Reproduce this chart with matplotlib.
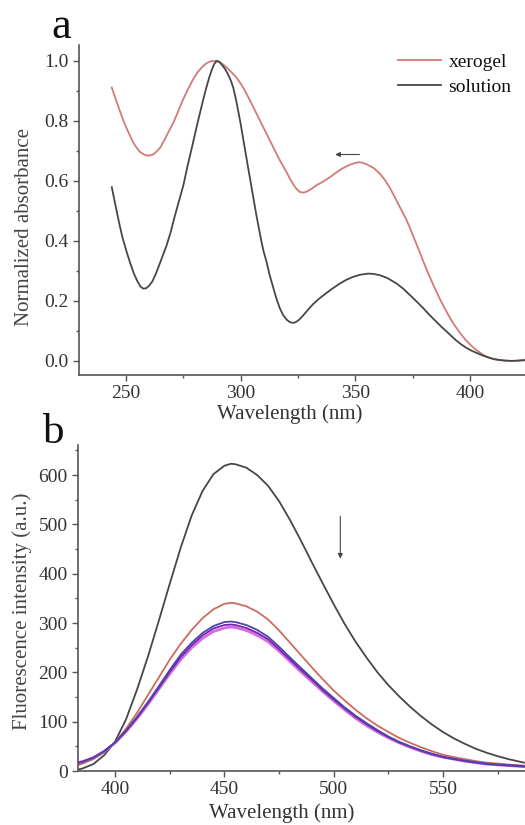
import matplotlib
matplotlib.use("Agg")
import matplotlib.pyplot as plt
from matplotlib.ticker import MultipleLocator

plt.rcParams['font.family'] = ['Liberation Serif', 'DejaVu Serif']

# panel a: normalized absorbance
wl_xerogel = [243.8, 245.5, 247, 248.5, 250, 251.5, 253, 254.5, 256, 258, 259.7, 261.5, 263,
              265, 267, 269, 271, 273, 275, 277, 279, 281, 283, 285, 287, 288.8, 290.5, 292,
              294, 296, 298, 299.7, 301.5, 303, 305, 307, 309, 311, 313, 315, 317.5, 320, 322,
              324, 325.8, 327.5, 329, 331, 333, 336, 338.9, 341.5, 344, 346, 348, 350, 351.3,
              353, 355, 358, 360.7, 363, 365, 367, 369.4, 372, 374, 376, 378.2, 380, 382,
              384.5, 386.9, 389, 391, 393, 395.6, 398, 400, 402, 404.3, 406, 408, 410, 412,
              414, 416, 420, 424]
abs_xerogel = [0.911, 0.873, 0.84, 0.808, 0.78, 0.755, 0.73, 0.712, 0.697, 0.687, 0.684,
               0.687, 0.695, 0.712, 0.74, 0.77, 0.80, 0.837, 0.873, 0.905, 0.935, 0.96, 0.978,
               0.992, 0.999, 1.0, 0.997, 0.99, 0.978, 0.962, 0.946, 0.928, 0.906, 0.884, 0.854,
               0.823, 0.792, 0.762, 0.731, 0.70, 0.663, 0.629, 0.60, 0.576, 0.563, 0.561, 0.565,
               0.574, 0.585, 0.598, 0.612, 0.627, 0.64, 0.648, 0.655, 0.660, 0.662, 0.661,
               0.655, 0.643, 0.624, 0.602, 0.578, 0.549, 0.513, 0.475, 0.44, 0.402, 0.36, 0.325,
               0.288, 0.245, 0.206, 0.175, 0.147, 0.122, 0.094, 0.071, 0.055, 0.041, 0.028,
               0.019, 0.012, 0.007, 0.004, 0.002, 0.0, 0.0, 0.004]

wl_solution = [243.8, 245.5, 247, 248.5, 250.3, 252, 253.5, 255, 256.3, 257.5, 258.7, 260,
               261.5, 263, 265, 267.7, 269.5, 271, 273, 275, 277, 279, 280.7, 282.3, 283.7,
               285, 286.3, 287.5, 288.5, 289.5, 290.7, 292, 293.3, 294.5, 295.7, 296.8, 298,
               299, 300, 301, 302, 303, 304.1, 305.5, 307, 308, 309, 310, 311.3, 312.5, 314,
               315.5, 317.1, 318.5, 320, 321.3, 322.5, 323.7, 325, 326.5, 328, 330, 331.7, 334,
               337, 340, 343.3, 346, 349, 352, 355.6, 358, 361, 364, 368, 371, 374, 377, 379.6,
               382, 385, 387.5, 389.8, 392, 394, 396, 398.5, 401, 404.3, 407, 409, 411, 414,
               418, 424]
abs_solution = [0.579, 0.515, 0.46, 0.41, 0.363, 0.322, 0.29, 0.265, 0.248, 0.241, 0.242,
                0.25, 0.265, 0.29, 0.33, 0.385, 0.43, 0.475, 0.53, 0.585, 0.655, 0.72, 0.777,
                0.828, 0.872, 0.91, 0.945, 0.972, 0.99, 1.0, 0.997, 0.985, 0.972, 0.955, 0.935,
                0.91, 0.87, 0.83, 0.79, 0.745, 0.70, 0.655, 0.607, 0.545, 0.48, 0.44, 0.40,
                0.365, 0.33, 0.29, 0.25, 0.21, 0.175, 0.153, 0.138, 0.13, 0.127, 0.128, 0.134,
                0.145, 0.158, 0.176, 0.19, 0.206, 0.224, 0.241, 0.258, 0.27, 0.28, 0.287,
                0.291, 0.29, 0.285, 0.276, 0.258, 0.24, 0.218, 0.196, 0.176, 0.156, 0.133,
                0.114, 0.098, 0.082, 0.068, 0.056, 0.043, 0.033, 0.022, 0.014, 0.009, 0.005,
                0.002, 0.0, 0.002]

# panel b: fluorescence spectra
wl_fl = [383, 385, 390, 395, 400, 405, 410, 415, 420, 425, 430, 435, 440, 445, 450, 453, 455,
         460, 465, 470, 475, 480, 485, 490, 495, 500, 505, 510, 515, 520, 525, 530, 535, 540,
         545, 550, 555, 560, 565, 570, 575, 580, 585, 587]
fl_black = [3, 5, 14, 32, 60, 105, 165, 232, 305, 380, 453, 518, 568, 602, 619, 623, 622,
            615, 600, 578, 547, 509, 467, 423, 380, 338, 298, 262, 230, 200, 174, 151, 130,
            111, 94, 79, 66, 55, 45, 37, 30, 24, 19, 17]
fl_red = [12, 15, 24, 38, 58, 86, 118, 154, 190, 226, 258, 286, 310, 328, 339, 341, 340, 334,
          323, 307, 285, 260, 235, 210, 186, 163, 143, 124, 107, 92, 79, 67, 57, 48, 40, 33,
          28, 24, 20, 17, 15, 13, 11.5, 11]
fl_blue = [16, 18, 27, 40, 58, 82, 110, 140, 172, 205, 236, 260, 280, 294, 302, 303, 302,
           296, 286, 272, 252, 230, 209, 188, 167, 148, 129, 112, 97, 83, 70, 59, 50, 42, 35,
           29, 25, 21, 18, 15, 13.5, 12, 10.5, 10]
fl_purple = [17, 19, 27, 40, 58, 81, 108, 138, 169, 201, 231, 255, 275, 289, 296, 297, 296,
             290, 280, 267, 247, 226, 205, 185, 164, 145, 127, 110, 95, 81, 69, 58, 49, 41, 34,
             28, 24, 20, 17, 14, 12.5, 11, 9.5, 9]
fl_magenta = [17, 19, 27, 40, 57, 80, 106, 135, 166, 197, 226, 250, 269, 283, 290, 292, 291,
              285, 275, 262, 243, 222, 201, 181, 161, 142, 124, 107, 92, 79, 67, 57, 48, 40,
              33, 28, 24, 20, 17, 14, 12.5, 11, 9.5, 9]

text_c = '#333333'
spine_c = '#555555'

fig = plt.figure(figsize=(5.25, 8.25), dpi=100)
ax_a = fig.add_axes([79 / 525, 1 - 375 / 825, 446 / 525, 330 / 825])
ax_b = fig.add_axes([78 / 525, 1 - 771 / 825, 447 / 525, 326 / 825])

for ax in (ax_a, ax_b):
    ax.spines['top'].set_visible(False)
    ax.spines['right'].set_visible(False)
    for s in ('left', 'bottom'):
        ax.spines[s].set_color(spine_c)
        ax.spines[s].set_linewidth(1.2)
    ax.tick_params(which='major', direction='out', length=4.5, width=1.0, color=spine_c,
                   labelsize=14, labelcolor=text_c, pad=3)
    ax.tick_params(which='minor', direction='out', length=2.5, width=1.0, color=spine_c)

# panel a
ax_a.plot(wl_xerogel, abs_xerogel, color='#d47a76', lw=1.3, label='xerogel')
ax_a.plot(wl_solution, abs_solution, color='#474747', lw=1.3, label='solution')
ax_a.set_xlim(229.5, 424)
ax_a.set_ylim(-0.047, 1.053)
ax_a.xaxis.set_major_locator(MultipleLocator(50))
ax_a.xaxis.set_minor_locator(MultipleLocator(25))
ax_a.yaxis.set_major_locator(MultipleLocator(0.2))
ax_a.yaxis.set_minor_locator(MultipleLocator(0.1))
ax_a.yaxis.set_major_formatter(plt.FuncFormatter(lambda v, p: f'{v:.1f}'))
ax_a.set_xlabel('Wavelength (nm)', fontsize=15, color=text_c)
ax_a.set_ylabel('Normalized absorbance', fontsize=15, color='#444444')
ax_a.xaxis.set_label_coords(0.473, -0.088)
ax_a.yaxis.set_label_coords(-0.10, 0.45)
ax_a.annotate('', xy=(340, 0.688), xytext=(353, 0.688),
              arrowprops=dict(arrowstyle='-|>', color='#444444', lw=0.8, mutation_scale=7))
leg = ax_a.legend(loc='upper left', bbox_to_anchor=(398 / 525, 1 - 53 / 825),
                  bbox_transform=fig.transFigure, frameon=False, fontsize=14,
                  handlelength=2.2, handletextpad=0.4, labelspacing=0.4,
                  borderpad=0, borderaxespad=0)
for t in leg.get_texts():
    t.set_color('#111111')

fig.text(51 / 525, 1 - 38 / 825, 'a', fontsize=32, color='#111111', ha='left', va='baseline')

# panel b
ax_b.plot(wl_fl, fl_black, color='#474747', lw=1.3)
ax_b.plot(wl_fl, fl_red, color='#cf6a5e', lw=1.3)
ax_b.plot(wl_fl, fl_magenta, color='#d46ee0', lw=2.0)
ax_b.plot(wl_fl, fl_purple, color='#7a22b0', lw=1.3)
ax_b.plot(wl_fl, fl_blue, color='#4b46a8', lw=1.3)
ax_b.set_xlim(383, 587.5)
ax_b.set_ylim(0, 661)
ax_b.xaxis.set_major_locator(MultipleLocator(50))
ax_b.xaxis.set_minor_locator(MultipleLocator(25))
ax_b.yaxis.set_major_locator(MultipleLocator(100))
ax_b.yaxis.set_minor_locator(MultipleLocator(50))
ax_b.set_xlabel('Wavelength (nm)', fontsize=15, color=text_c)
ax_b.set_ylabel('Fluorescence intensity (a.u.)', fontsize=15, color='#444444')
ax_b.xaxis.set_label_coords(0.456, -0.098)
ax_b.yaxis.set_label_coords(-0.103, 0.49)
ax_b.annotate('', xy=(503, 425), xytext=(503, 522),
              arrowprops=dict(arrowstyle='-|>', color='#444444', lw=0.8, mutation_scale=7))

fig.text(43 / 525, 1 - 443 / 825, 'b', fontsize=31, color='#111111', ha='left', va='baseline')

fig.savefig('out.png', dpi=100)
